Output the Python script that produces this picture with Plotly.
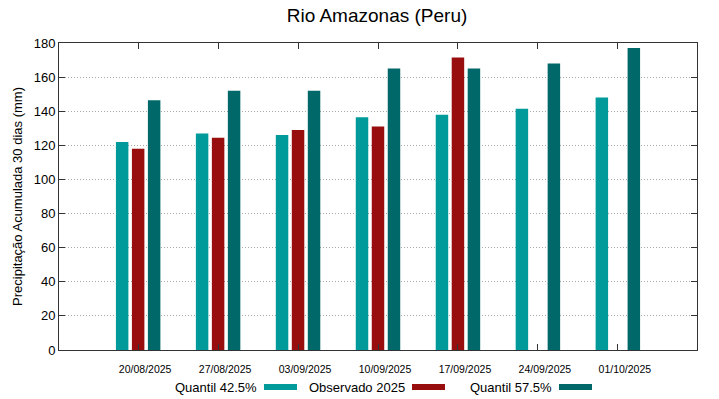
import plotly.graph_objects as go

categories = ["20/08/2025", "27/08/2025", "03/09/2025", "10/09/2025",
              "17/09/2025", "24/09/2025", "01/10/2025"]
quantil_425 = [122, 127, 126, 136.5, 138, 141.5, 148]
observado_2025 = [118, 124.5, 129, 131, 171.5, None, None]
quantil_575 = [146.5, 152, 152, 165, 165, 168, 177]

series_names = ["Quantil 42.5%", "Observado 2025", "Quantil 57.5%"]
series_values = [quantil_425, observado_2025, quantil_575]
series_colors = ["#009a9a", "#980e0e", "#006868"]

y_ticks = [0, 20, 40, 60, 80, 100, 120, 140, 160, 180]

FONT = "Liberation Sans, Arial, sans-serif"

# target plot area in page px: x 59..697, y 43..350 (body margin removed)
W, H = 719, 399
PX0, PX1, PY0, PY1 = 59, 697, 43, 350
ml, mt, mr, mb = PX0, PY0, W - PX1, H - PY1
PW, PH = PX1 - PX0, PY1 - PY0


def xp(px):
    return (px - PX0) / PW


def yp(py):
    return (PY1 - py) / PH


fig = go.Figure()
xs = list(range(len(categories)))
for name, vals, col in zip(series_names, series_values, series_colors):
    fig.add_trace(go.Bar(x=xs, y=vals, name=name, marker=dict(color=col, line=dict(width=0)),
                         showlegend=False))

# Custom gnuplot-style legend: text then swatch to its right
legend_swatch_x = [264, 412, 559]
ly = 387
shapes = []
for sx, name, col in zip(legend_swatch_x, series_names, series_colors):
    fig.add_annotation(x=xp(sx - 5), y=yp(ly), xref="paper", yref="paper",
                       text=name, showarrow=False, xanchor="right", yanchor="middle",
                       font=dict(family=FONT, size=13, color="#000000"))
    shapes.append(dict(type="rect", xref="paper", yref="paper", layer="above",
                       x0=xp(sx), x1=xp(sx + 33), y0=yp(ly + 3), y1=yp(ly - 3),
                       fillcolor=col, line=dict(width=0)))

fig.update_layout(
    width=W, height=H,
    margin=dict(l=ml, r=mr, t=mt, b=mb, autoexpand=False),
    paper_bgcolor="white", plot_bgcolor="white",
    barmode="group", bargap=0.4, bargroupgap=0.22,
    title=dict(text="Rio Amazonas (Peru)", x=377 / W, xanchor="center",
               y=1 - 15.5 / H, yanchor="middle",
               font=dict(family=FONT, size=19, color="#000000")),
    font=dict(family=FONT, color="#000000"),
    shapes=shapes,
    xaxis=dict(range=[-0.99, 6.99], tickmode="array", tickvals=xs, ticktext=categories,
               ticks="inside", ticklen=6, tickcolor="#333333",
               showline=True, linecolor="#333333", linewidth=1, mirror="ticks",
               showgrid=False, zeroline=False,
               ticklabelshift=7, ticklabelstandoff=9,
               tickfont=dict(family=FONT, size=10.5, color="#000000")),
    yaxis=dict(range=[0, 180], tickmode="array", tickvals=y_ticks,
               ticks="inside", ticklen=6, tickcolor="#333333",
               showline=True, linecolor="#333333", linewidth=1, mirror="ticks",
               showgrid=True, gridcolor="#a8a8a8", griddash="1px,2px", gridwidth=1,
               zeroline=False,
               title=dict(text="Precipitação Acumulada 30 dias (mm)", standoff=8,
                          font=dict(family=FONT, size=13, color="#000000")),
               tickfont=dict(family=FONT, size=13, color="#000000")),
)

fig.write_html("out.html", config={"displayModeBar": False},
               post_script="document.body.style.margin='0';")
